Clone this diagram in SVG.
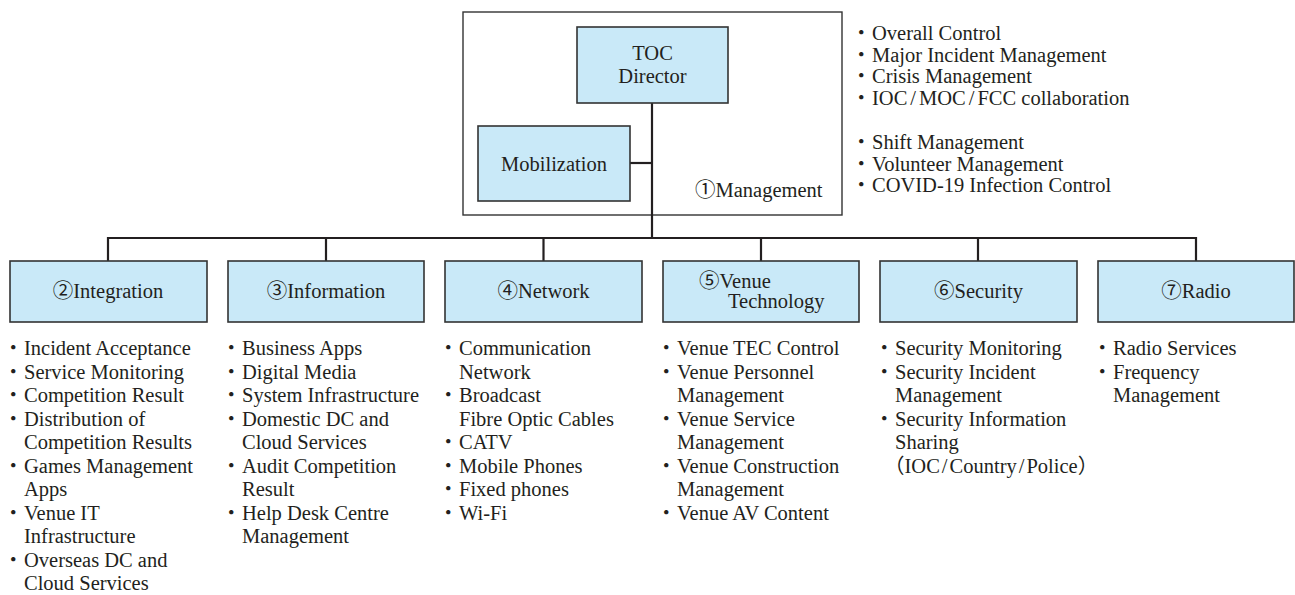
<svg xmlns="http://www.w3.org/2000/svg" width="1295" height="595" viewBox="0 0 1295 595">
  <style>
    text { font-family: "Liberation Serif", "Noto Sans CJK JP", serif; font-size: 20.5px; fill: #231f20; }
    .box { fill: #c9e9f8; stroke: #333333; stroke-width: 1.6; }
    .frame { fill: #ffffff; stroke: #333333; stroke-width: 1.4; }
    .link { fill: none; stroke: #231f20; stroke-width: 2.2; }
    .mid { text-anchor: middle; }
    .b { font-family: "Noto Sans CJK JP", sans-serif; }
  </style>

  <rect width="1295" height="595" fill="#ffffff"/>

  <!-- management frame -->
  <g id="management">
    <rect class="frame" x="463" y="12" width="379" height="203"/>
    <text x="695" y="197"><tspan class="b">①</tspan>Management</text>
  </g>

  <!-- connectors -->
  <g id="connectors">
    <path class="link" d="M652 103 V238"/>
    <path class="link" d="M630 163 H652"/>
    <path class="link" d="M108 261 V238 H1196 V261"/>
    <path class="link" d="M326 238 V261 M543.5 238 V261 M761 238 V261 M978 238 V261"/>
  </g>

  <g id="toc-director">
    <rect class="box" x="577" y="27" width="151" height="76"/>
    <text class="mid" x="652.5" y="60">TOC</text>
    <text class="mid" x="652.5" y="83">Director</text>
  </g>

  <g id="mobilization">
    <rect class="box" x="478" y="126" width="152" height="75"/>
    <text class="mid" x="554" y="171">Mobilization</text>
  </g>

  <!-- management duties -->
  <g id="management-duties">
    <text y="40"><tspan class="b" x="851">・</tspan><tspan x="872">Overall Control</tspan></text>
    <text y="62"><tspan class="b" x="851">・</tspan><tspan x="872">Major Incident Management</tspan></text>
    <text y="83"><tspan class="b" x="851">・</tspan><tspan x="872">Crisis Management</tspan></text>
    <text y="105"><tspan class="b" x="851">・</tspan><tspan x="872">IOC</tspan><tspan dx="3">/</tspan><tspan dx="3">MOC</tspan><tspan dx="3">/</tspan><tspan dx="3">FCC collaboration</tspan></text>
    <text y="149"><tspan class="b" x="851">・</tspan><tspan x="872">Shift Management</tspan></text>
    <text y="171"><tspan class="b" x="851">・</tspan><tspan x="872">Volunteer Management</tspan></text>
    <text y="192"><tspan class="b" x="851">・</tspan><tspan x="872">COVID-19 Infection Control</tspan></text>
  </g>

  <!-- teams -->
  <g id="integration">
    <rect class="box" x="10" y="261" width="197" height="61"/>
    <text class="mid" x="108" y="298"><tspan class="b">②</tspan>Integration</text>
    <text y="355"><tspan class="b" x="3">・</tspan><tspan x="24">Incident Acceptance</tspan></text>
    <text y="378.5"><tspan class="b" x="3">・</tspan><tspan x="24">Service Monitoring</tspan></text>
    <text y="402"><tspan class="b" x="3">・</tspan><tspan x="24">Competition Result</tspan></text>
    <text y="425.5"><tspan class="b" x="3">・</tspan><tspan x="24">Distribution of</tspan></text>
    <text x="24" y="449">Competition Results</text>
    <text y="472.5"><tspan class="b" x="3">・</tspan><tspan x="24">Games Management</tspan></text>
    <text x="24" y="496">Apps</text>
    <text y="519.5"><tspan class="b" x="3">・</tspan><tspan x="24">Venue IT</tspan></text>
    <text x="24" y="543">Infrastructure</text>
    <text y="566.5"><tspan class="b" x="3">・</tspan><tspan x="24">Overseas DC and</tspan></text>
    <text x="24" y="590">Cloud Services</text>
  </g>

  <g id="information">
    <rect class="box" x="228" y="261" width="196" height="61"/>
    <text class="mid" x="326" y="298"><tspan class="b">③</tspan>Information</text>
    <text y="355"><tspan class="b" x="221">・</tspan><tspan x="242">Business Apps</tspan></text>
    <text y="378.5"><tspan class="b" x="221">・</tspan><tspan x="242">Digital Media</tspan></text>
    <text y="402"><tspan class="b" x="221">・</tspan><tspan x="242">System Infrastructure</tspan></text>
    <text y="425.5"><tspan class="b" x="221">・</tspan><tspan x="242">Domestic DC and</tspan></text>
    <text x="242" y="449">Cloud Services</text>
    <text y="472.5"><tspan class="b" x="221">・</tspan><tspan x="242">Audit Competition</tspan></text>
    <text x="242" y="496">Result</text>
    <text y="519.5"><tspan class="b" x="221">・</tspan><tspan x="242">Help Desk Centre</tspan></text>
    <text x="242" y="543">Management</text>
  </g>

  <g id="network">
    <rect class="box" x="445" y="261" width="197" height="61"/>
    <text class="mid" x="543.5" y="298"><tspan class="b">④</tspan>Network</text>
    <text y="355"><tspan class="b" x="438">・</tspan><tspan x="459">Communication</tspan></text>
    <text x="459" y="378.5">Network</text>
    <text y="402"><tspan class="b" x="438">・</tspan><tspan x="459">Broadcast</tspan></text>
    <text x="459" y="425.5">Fibre Optic Cables</text>
    <text y="449"><tspan class="b" x="438">・</tspan><tspan x="459">CATV</tspan></text>
    <text y="472.5"><tspan class="b" x="438">・</tspan><tspan x="459">Mobile Phones</tspan></text>
    <text y="496"><tspan class="b" x="438">・</tspan><tspan x="459">Fixed phones</tspan></text>
    <text y="519.5"><tspan class="b" x="438">・</tspan><tspan x="459">Wi-Fi</tspan></text>
  </g>

  <g id="venue-technology">
    <rect class="box" x="663" y="261" width="196" height="61"/>
    <text x="699" y="288"><tspan class="b">⑤</tspan>Venue</text>
    <text x="728" y="308">Technology</text>
    <text y="355"><tspan class="b" x="656">・</tspan><tspan x="677">Venue TEC Control</tspan></text>
    <text y="378.5"><tspan class="b" x="656">・</tspan><tspan x="677">Venue Personnel</tspan></text>
    <text x="677" y="402">Management</text>
    <text y="425.5"><tspan class="b" x="656">・</tspan><tspan x="677">Venue Service</tspan></text>
    <text x="677" y="449">Management</text>
    <text y="472.5"><tspan class="b" x="656">・</tspan><tspan x="677">Venue Construction</tspan></text>
    <text x="677" y="496">Management</text>
    <text y="519.5"><tspan class="b" x="656">・</tspan><tspan x="677">Venue AV Content</tspan></text>
  </g>

  <g id="security">
    <rect class="box" x="880" y="261" width="197" height="61"/>
    <text class="mid" x="978.5" y="298"><tspan class="b">⑥</tspan>Security</text>
    <text y="355"><tspan class="b" x="874">・</tspan><tspan x="895">Security Monitoring</tspan></text>
    <text y="378.5"><tspan class="b" x="874">・</tspan><tspan x="895">Security Incident</tspan></text>
    <text x="895" y="402">Management</text>
    <text y="425.5"><tspan class="b" x="874">・</tspan><tspan x="895">Security Information</tspan></text>
    <text x="895" y="449">Sharing</text>
    <text x="884" y="472.5"><tspan class="b">（</tspan>IOC<tspan dx="2">/</tspan><tspan dx="2">Country</tspan><tspan dx="2">/</tspan><tspan dx="2">Police</tspan><tspan class="b">）</tspan></text>
  </g>

  <g id="radio">
    <rect class="box" x="1098" y="261" width="196" height="61"/>
    <text class="mid" x="1196" y="298"><tspan class="b">⑦</tspan>Radio</text>
    <text y="355"><tspan class="b" x="1092">・</tspan><tspan x="1113">Radio Services</tspan></text>
    <text y="378.5"><tspan class="b" x="1092">・</tspan><tspan x="1113">Frequency</tspan></text>
    <text x="1113" y="402">Management</text>
  </g>
</svg>
